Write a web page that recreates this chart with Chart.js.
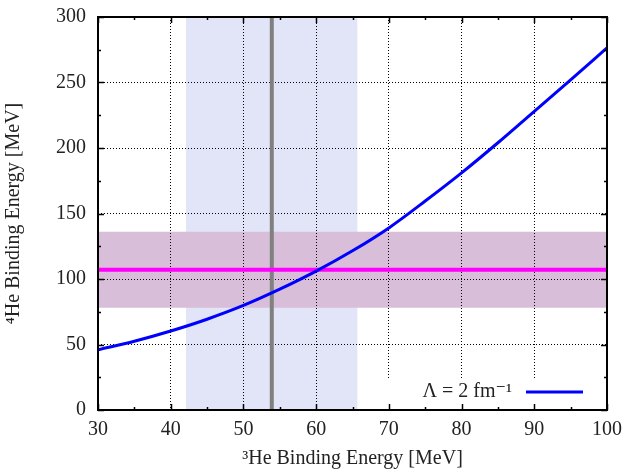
<!DOCTYPE html>
<html>
<head>
<meta charset="utf-8">
<script src="https://cdn.jsdelivr.net/npm/chart.js@4.4.1/dist/chart.umd.min.js"></script>
<style>
  body { margin: 0; background: #fff; }
  #wrap { width: 634px; height: 472px; }
</style>
</head>
<body>
<div id="wrap"><canvas id="bindingChart" width="634" height="472"></canvas></div>
<script>
// Data
const he3Binding = [30, 35, 40, 45, 50, 55, 60, 65, 70, 75, 80, 85, 90, 95, 100];
const he4Binding = [46, 52.5, 60.3, 69.3, 79.8, 92.2, 106, 121.5, 139, 159.5, 181, 204, 228, 252, 276.5];
const xRange = [30, 100];
const yRange = [0, 300];
// experimental values with uncertainty bands
const he3Exp = [53.9, 11.8];
const he4Exp = [107, 29];
const curveLabel = 'Λ = 2 fm⁻¹';

const serif = "'Liberation Serif', 'DejaVu Serif', serif";
const fontSize = 20;
const textColor = '#222';

const curvePoints = he3Binding.map((x, i) => ({ x: x, y: he4Binding[i] }));

// frame, inward ticks and the legend drawn like gnuplot does
const framePlugin = {
    id: 'frame',
    afterDatasetsDraw(chart) {
        const ctx = chart.ctx;
        const a = chart.chartArea;
        const xs = chart.scales.x;
        const ys = chart.scales.y;
        const curve = chart.data.datasets[0];

        ctx.save();
        // legend box
        ctx.fillStyle = '#fff';
        ctx.fillRect(a.right - 240, a.bottom - 30, 239, 29);
        ctx.font = fontSize + 'px ' + serif;
        ctx.fillStyle = textColor;
        ctx.textAlign = 'right';
        ctx.textBaseline = 'middle';
        ctx.fillText(curve.label, a.right - 95, a.bottom - 18);
        ctx.strokeStyle = curve.borderColor;
        ctx.lineWidth = curve.borderWidth;
        ctx.beginPath();
        ctx.moveTo(a.right - 81, a.bottom - 18);
        ctx.lineTo(a.right - 24, a.bottom - 18);
        ctx.stroke();

        // ticks
        ctx.strokeStyle = '#000';
        ctx.lineWidth = 1.5;
        ctx.beginPath();
        for (let v = xRange[0]; v <= xRange[1]; v += 5) {
            const px = Math.round(xs.getPixelForValue(v)) + 0.5;
            const len = v % 10 === 0 ? 6 : 3;
            ctx.moveTo(px, a.bottom); ctx.lineTo(px, a.bottom - len);
            ctx.moveTo(px, a.top); ctx.lineTo(px, a.top + len);
        }
        for (let v = yRange[0]; v <= yRange[1]; v += 25) {
            const py = Math.round(ys.getPixelForValue(v)) + 0.5;
            const len = v % 50 === 0 ? 6 : 3;
            ctx.moveTo(a.left, py); ctx.lineTo(a.left + len, py);
            ctx.moveTo(a.right, py); ctx.lineTo(a.right - len, py);
        }
        ctx.stroke();

        // frame
        ctx.lineWidth = 2;
        ctx.strokeRect(a.left, a.top, a.right - a.left, a.bottom - a.top);
        ctx.restore();
    }
};

const ctx = document.getElementById('bindingChart').getContext('2d');

new Chart(ctx, {
    type: 'line',
    data: {
        datasets: [
            {
                label: curveLabel,
                data: curvePoints,
                borderColor: '#0000ff',
                borderWidth: 3,
                pointRadius: 0,
                cubicInterpolationMode: 'monotone',
                fill: false,
                order: 1
            },
            {
                // 4He experiment
                label: '4He exp',
                data: [{ x: xRange[0], y: he4Exp[0] }, { x: xRange[1], y: he4Exp[0] }],
                borderColor: '#ff00ff',
                borderWidth: 4,
                pointRadius: 0,
                fill: false,
                order: 2
            },
            {
                // 3He experiment
                label: '3He exp',
                data: [{ x: he3Exp[0], y: yRange[0] }, { x: he3Exp[0], y: yRange[1] }],
                borderColor: '#808080',
                borderWidth: 4,
                pointRadius: 0,
                fill: false,
                order: 3
            },
            {
                label: '4He band top',
                data: [{ x: xRange[0], y: he4Exp[0] + he4Exp[1] }, { x: xRange[1], y: he4Exp[0] + he4Exp[1] }],
                borderWidth: 0,
                pointRadius: 0,
                backgroundColor: 'rgb(216, 190, 216)',
                fill: '+1',
                order: 4
            },
            {
                label: '4He band bottom',
                data: [{ x: xRange[0], y: he4Exp[0] - he4Exp[1] }, { x: xRange[1], y: he4Exp[0] - he4Exp[1] }],
                borderWidth: 0,
                pointRadius: 0,
                fill: false,
                order: 5
            },
            {
                label: '3He band',
                data: [{ x: he3Exp[0] - he3Exp[1], y: yRange[1] }, { x: he3Exp[0] + he3Exp[1], y: yRange[1] }],
                borderWidth: 0,
                pointRadius: 0,
                backgroundColor: 'rgb(226, 228, 248)',
                fill: 'origin',
                order: 6
            }
        ]
    },
    options: {
        responsive: false,
        animation: false,
        layout: { padding: { top: 17, right: 27, left: 0, bottom: 0 } },
        plugins: {
            legend: { display: false },
            tooltip: { enabled: false },
            filler: { drawTime: 'beforeDraw' }
        },
        scales: {
            x: {
                type: 'linear',
                min: xRange[0],
                max: xRange[1],
                afterFit: s => { s.height = 62; s.paddingLeft = 0; s.paddingRight = 0; },
                ticks: {
                    stepSize: 10,
                    color: textColor,
                    font: { family: serif, size: fontSize },
                    padding: 8,
                    maxRotation: 0
                },
                grid: { color: '#000', lineWidth: 1, drawTicks: false },
                border: { display: false, dash: [1, 2] },
                title: {
                    display: true,
                    text: '³He Binding Energy [MeV]',
                    color: textColor,
                    font: { family: serif, size: fontSize },
                    padding: { top: 0, bottom: 1 }
                }
            },
            y: {
                type: 'linear',
                min: yRange[0],
                max: yRange[1],
                afterFit: s => { s.width = 98; s.paddingTop = 0; s.paddingBottom = 0; },
                ticks: {
                    stepSize: 50,
                    color: textColor,
                    font: { family: serif, size: fontSize },
                    padding: 12
                },
                grid: { color: '#000', lineWidth: 1, drawTicks: false },
                border: { display: false, dash: [1, 2] },
                title: {
                    display: true,
                    text: '⁴He Binding Energy [MeV]',
                    color: textColor,
                    font: { family: serif, size: fontSize },
                    padding: { top: 2, bottom: 0 }
                }
            }
        }
    },
    plugins: [framePlugin]
});
</script>
</body>
</html>
